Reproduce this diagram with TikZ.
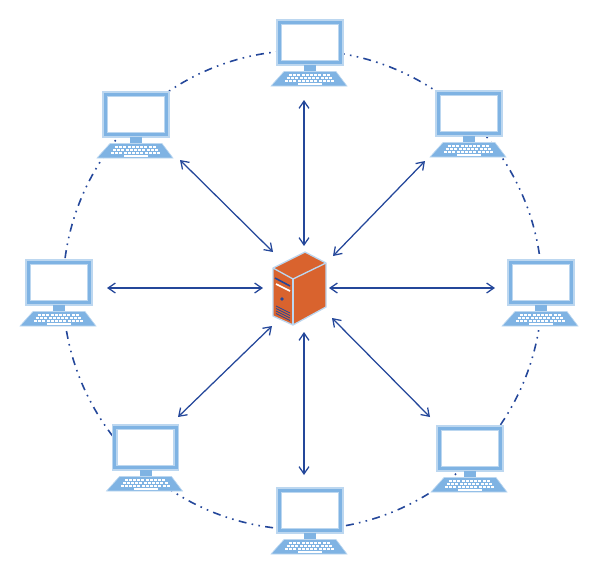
\documentclass[tikz,border=0pt]{standalone}
\usepackage{tikz}
\usetikzlibrary{calc,arrows.meta}

\definecolor{pcblue}{HTML}{7FB3E3}
\definecolor{pcpale}{HTML}{BCD7F0}
\definecolor{linkblue}{HTML}{24479A}
\definecolor{towerorange}{HTML}{D9632E}

\tikzset{
	link/.style={{Straight Barb[length=5.5pt,width=7.5pt]}-{Straight Barb[length=5.5pt,width=7.5pt]}, draw=linkblue, line width=0.95pt},
	ring/.style={draw=linkblue, line width=1.2pt, dash pattern=on 6pt off 4pt on 1.2pt off 4pt on 1.2pt off 4pt},
	computer/.pic={
		% screen
		\fill[pcblue, draw=pcpale, line width=0.8pt] (0,0) rectangle (66,45);
		\fill[white, draw=pcpale, line width=0.8pt] (4.5,4.5) rectangle (61.5,40.5);
		% stand
		\fill[pcblue] (27,45) rectangle (39,52);
		% keyboard
		\fill[pcblue, draw=pcpale, line width=0.5pt] (7,51.5) -- (59,51.5) -- (70,66) -- (-6,66) -- cycle;
		\foreach \row/\start/\n in {54/12/10,57/10/11,60/8/12}
		\foreach \k in {1,...,\n}
		\fill[white] ({\start+(\k-1)*4.2},\row) rectangle ++(3,1.8);
		\fill[white] (21,63) rectangle (45,64.8);
	}
}

\begin{document}
\begin{tikzpicture}[x=0.0265cm, y=-0.0265cm]

	\useasboundingbox (0,0) rectangle (600,574);

	\coordinate (C) at (302.5,290);

	% ring
	\draw[ring] (C) circle[radius=239.5];

	% computers
	\foreach \name/\x/\y in {top/277/20, topright/436/91, right/508/260, botright/437/426,
		bot/277/488, botleft/112.5/425, left/26/260, topleft/103/92}
	\pic (\name) at (\x,\y) {computer};

	% tower
	\fill[towerorange, draw=pcpale, line width=1pt, line join=round]
	(273,268) -- (305,252) -- (326,263) -- (326,307) -- (293,325) -- (273,316) -- cycle;
	\draw[pcpale, line width=1pt] (273,268) -- (293,279) -- (326,263);
	\draw[pcpale, line width=1.2pt] (293,279) -- (293,325);
	\draw[white, line width=1.3pt] (276,284) -- (290,291);
	\draw[linkblue, line width=1.2pt] (275,278) -- (290,286);
	\fill[linkblue] (282,299) circle (1.8);
	\foreach \d in {0,2.5,5,7.5}
	\draw[linkblue, line width=0.6pt] (276,306+\d) -- (290,313+\d);

	% ends of the links
	\foreach \name/\x/\y/\u/\v in {top/304/100/304/246, topright/425/161/333/256,
		right/495/288/329/288, botright/430/417/332/318, bot/304/475/304/332,
		botleft/178/417/272/326, left/107/288/263/288, topleft/180/160/273/252} {
		\coordinate (\name out) at (\x,\y);
		\coordinate (\name in) at (\u,\v);
		\draw[link] (\name out) -- (\name in);
	}

\end{tikzpicture}
\end{document}
